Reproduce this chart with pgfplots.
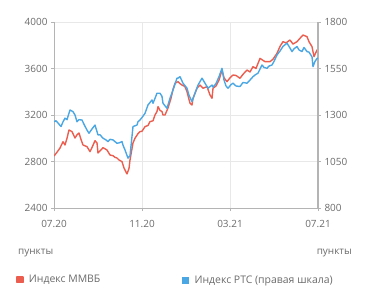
\documentclass[border=0pt]{standalone}
\usepackage{pgfplots}
\pgfplotsset{compat=1.18}
\usepackage{fontspec}
\setmainfont{Open Sans}
\definecolor{redl}{HTML}{EB5E4F}
\definecolor{bluel}{HTML}{4AA7E3}
\definecolor{txt}{HTML}{6B6B6B}
\definecolor{gridc}{HTML}{E8E8E8}
\definecolor{axc}{HTML}{B4B4B4}

\pgfplotstableread{
x y
0 2847
3 2880
6 2916
9 2970
11 2942
13 3000
15 3071
18 3057
21 3002
23 3030
25 3045
27 2990
29 2942
33 2928
36 2885
38 2920
41 2979
43 2960
44 2873
47 2900
49 2919
53 2899
56 2856
59 2850
61 2836
63 2830
65 2813
68 2799
70 2744
73 2693
75 2740
76 2813
79 2960
81 3000
84 3040
86 3057
88 3060
91 3100
94 3110
96 3143
99 3150
101 3200
103 3230
104 3272
106 3240
108 3229
109 3200
111 3200
114 3260
117 3344
119 3420
121 3473
124 3487
126 3470
128 3458
131 3444
133 3400
136 3301
138 3286
139 3344
143 3430
146 3458
149 3430
153 3444
156 3372
158 3344
159 3430
162 3450
165 3500
168 3587
170 3520
173 3487
176 3520
179 3544
182 3540
186 3516
189 3550
193 3587
196 3570
199 3616
202 3600
206 3687
209 3670
211 3659
216 3659
219 3680
223 3731
226 3790
229 3831
232 3820
236 3845
239 3810
243 3831
246 3860
249 3888
253 3874
255 3830
258 3788
260 3702
263 3759
264 3750
}\mmvb

\pgfplotstableread{
x y
0 1264
2 1269
4 1257
7 1238
9 1263
11 1283
13 1275
16 1327
19 1318
21 1300
23 1264
25 1275
28 1273
30 1250
33 1219
35 1202
38 1225
41 1246
44 1193
46 1194
49 1175
52 1166
54 1157
56 1169
59 1166
63 1148
65 1150
68 1157
69 1138
71 1112
74 1068
76 1081
79 1238
83 1246
84 1264
86 1273
89 1294
91 1309
94 1354
98 1381
99 1363
101 1390
103 1417
106 1417
108 1400
109 1363
113 1336
116 1390
119 1434
123 1498
124 1498
126 1506
129 1471
133 1444
135 1406
138 1372
141 1417
144 1461
148 1498
151 1471
154 1444
158 1461
159 1450
162 1469
165 1506
168 1551
170 1488
172 1456
174 1444
177 1463
179 1471
182 1456
186 1453
189 1475
193 1471
196 1488
199 1506
201 1515
204 1525
208 1569
210 1556
213 1551
215 1563
218 1569
220 1588
223 1623
226 1644
229 1669
233 1686
235 1669
238 1641
240 1656
243 1668
245 1650
248 1641
250 1663
253 1641
255 1638
258 1613
259 1560
261 1588
263 1604
264 1606
}\rts

\begin{document}
\begin{tikzpicture}[x=1bp,y=1bp]
\pgfplotsset{
  common/.style={
    at={(0,0)}, anchor=south west,
    scale only axis, width=264bp, height=186bp,
    xmin=0, xmax=264,
    xtick={0,88,176,264},
    tick align=outside, major tick length=3bp,
    tick style={axc, line width=0.6pt},
    ticklabel style={font=\fontsize{10}{12}\selectfont, text=txt},
    /pgf/number format/assume math mode=true,
    /pgf/number format/1000 sep={},
    axis line style={axc, line width=0.8pt},
  }
}
\begin{axis}[common,
  ymin=2400, ymax=4000,
  ytick={2400,2800,3200,3600,4000},
  xticklabels={07.20,11.20,03.21,07.21},
  xticklabel style={yshift=-6bp},
  axis x line*=bottom, axis y line*=left,
  grid=major, grid style={gridc, line width=0.8pt},
  legend columns=2,
  legend cell align=left,
  legend style={at={(rel axis cs:-0.155,-0.387)}, anchor=west, draw=none, fill=none,
    font=\fontsize{10.5}{12}\selectfont, text=txt,
    /tikz/every even column/.append style={column sep=80bp}},
  legend image code/.code={\fill[#1] (0bp,-2.8bp) rectangle (6bp,2.8bp); \path[draw=none,fill=none] (0bp,0bp) rectangle (10bp,0.1bp);},
]
\addplot[color=redl, line width=1.4pt, line join=round] table[x=x,y=y] {\mmvb};
\addlegendentry{Индекс ММВБ}
\addlegendimage{color=bluel}
\addlegendentry{Индекс РТС (правая шкала)}
\end{axis}
\begin{axis}[common,
  ymin=800, ymax=1800,
  ytick={800,1050,1300,1550,1800},
  xticklabels={},
  axis x line=none, axis y line*=right,
  axis line style={axc, line width=1.1pt},
]
\addplot[color=bluel, line width=1.4pt, line join=round] table[x=x,y=y] {\rts};
\end{axis}
\node[anchor=west, text=txt, font=\fontsize{10}{12}\selectfont, inner sep=0pt] at (-36bp,-45bp) {пункты};
\node[anchor=east, text=txt, font=\fontsize{10}{12}\selectfont, inner sep=0pt] at (298bp,-45bp) {пункты};
\pgfresetboundingbox
\path (-54bp,-95bp) rectangle (317bp,208bp);
\end{tikzpicture}
\end{document}
